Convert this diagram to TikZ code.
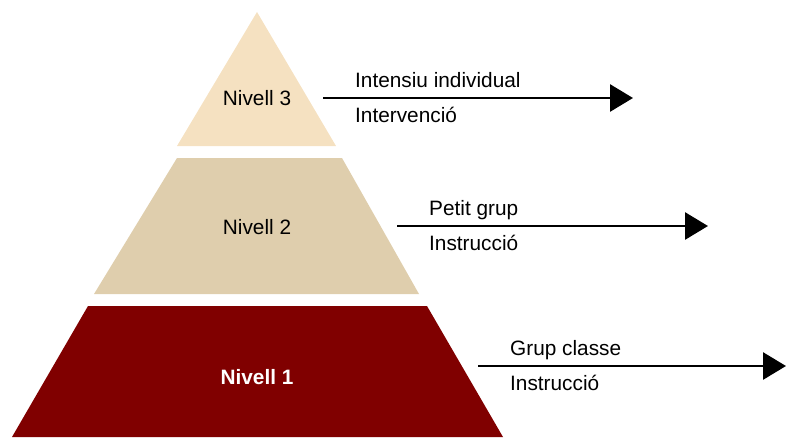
\documentclass[tikz,border=0pt]{standalone}
\usepackage{fontspec}
\setmainfont{Liberation Sans}
\usetikzlibrary{arrows.meta,positioning}
\definecolor{tierthree}{RGB}{245,225,193}
\definecolor{tiertwo}{RGB}{223,206,173}
\definecolor{tierone}{RGB}{128,0,0}
\tikzset{
  lbl/.style={inner sep=0pt, font=\fontsize{20.8}{24}\selectfont},
  lblbold/.style={inner sep=0pt, text=white, font=\fontsize{20.8}{24}\selectfont\bfseries},
  side/.style={inner sep=0pt, anchor=base west, font=\fontsize{20.8}{24}\selectfont},
  flow/.style={line width=2.8pt, -{Triangle[length=23pt,width=27pt]}},
}
\begin{document}
\begin{tikzpicture}[x=1pt,y=-1pt]
  \useasboundingbox (0,0) rectangle (786,437);
  % pyramid tiers
  \fill[tierthree] (257,12) -- (336,146) -- (177,146) -- cycle;
  \fill[tiertwo] (177,158) -- (342,158) -- (419,294) -- (94,294) -- cycle;
  \fill[tierone] (88,306) -- (427,306) -- (503,437) -- (12,437) -- cycle;
  \node[lbl](niv3) at (257,98) {Nivell 3};
  \node[lbl](niv2) at (257,227) {Nivell 2};
  \node[lblbold](niv1) at (257,377) {Nivell 1};
  % arrows
  \coordinate (s3) at (323,98);
  \coordinate (e3) at (633,98);
  \coordinate (s2) at (397,226);
  \coordinate (e2) at (708,226);
  \coordinate (s1) at (478,366);
  \coordinate (e1) at (786,366);
  \draw[flow] (s3) -- (e3);
  \draw[flow] (s2) -- (e2);
  \draw[flow] (s1) -- (e1);
  \node[side](top3) at ([shift={(32,-11)}]s3) {Intensiu individual};
  \node[side](bot3) at ([shift={(32,24)}]s3) {Intervenció};
  \node[side](top2) at ([shift={(32,-11)}]s2) {Petit grup};
  \node[side](bot2) at ([shift={(32,24)}]s2) {Instrucció};
  \node[side](top1) at ([shift={(32,-11)}]s1) {Grup classe};
  \node[side](bot1) at ([shift={(32,24)}]s1) {Instrucció};
\end{tikzpicture}
\end{document}
